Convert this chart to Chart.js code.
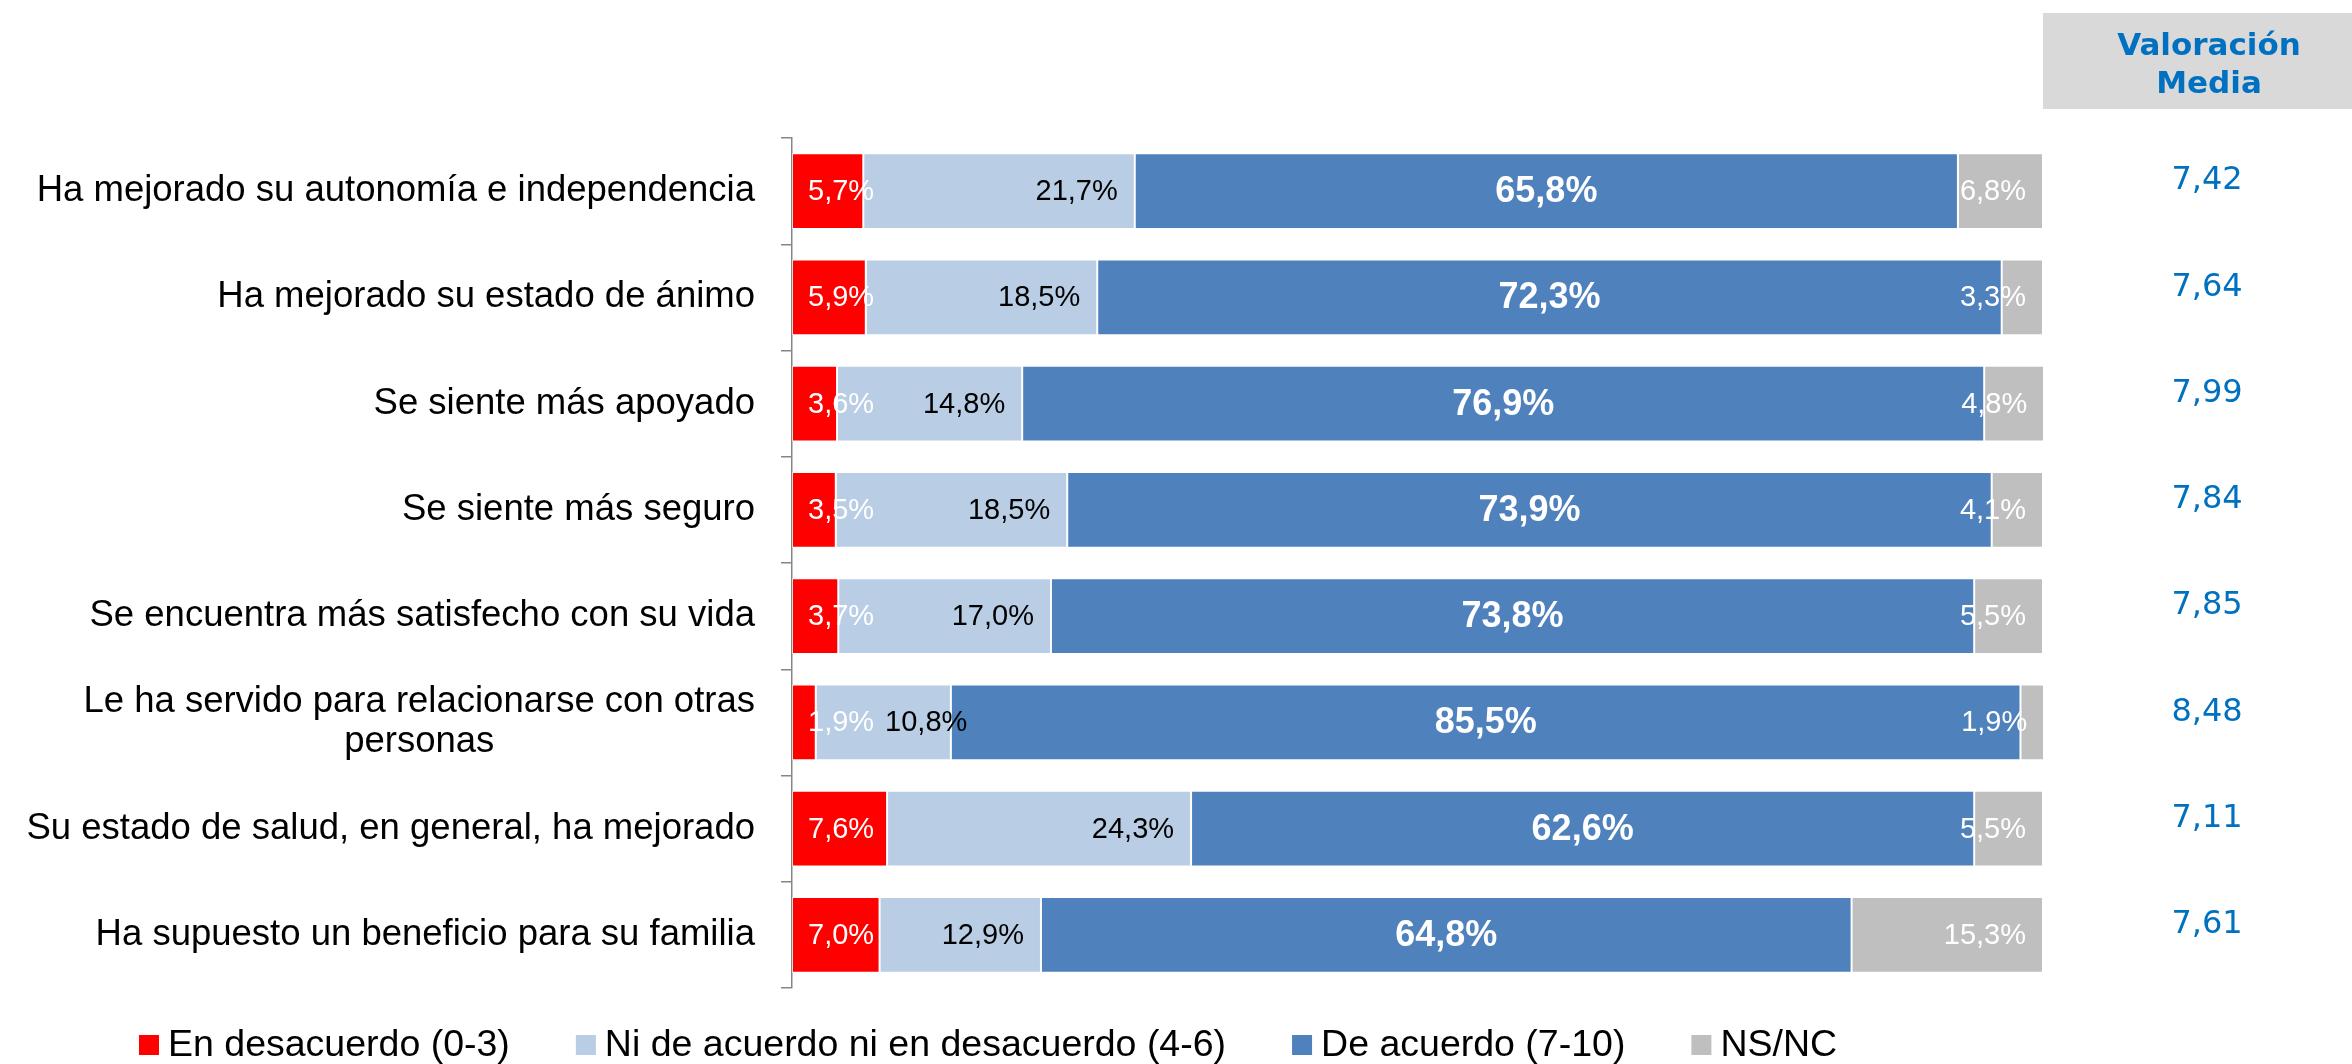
<!DOCTYPE html>
<html>
<head>
<meta charset="utf-8">
<script src="https://cdn.jsdelivr.net/npm/chart.js@4/dist/chart.umd.min.js"></script>
<style>
  html, body { margin: 0; padding: 0; background: #fff; }
  #wrap { width: 2352px; height: 1064px; position: relative; }
</style>
</head>
<body>
<div id="wrap"><canvas id="c" width="2352" height="1064"></canvas></div>
<script>
const categories = [
  'Ha mejorado su autonomía e independencia',
  'Ha mejorado su estado de ánimo',
  'Se siente más apoyado',
  'Se siente más seguro',
  'Se encuentra más satisfecho con su vida',
  ['Le ha servido para relacionarse con otras', 'personas'],
  'Su estado de salud, en general, ha mejorado',
  'Ha supuesto un beneficio para su familia'
];
const seriesNames = ['En desacuerdo (0-3)', 'Ni de acuerdo ni en desacuerdo (4-6)', 'De acuerdo (7-10)', 'NS/NC'];
const desacuerdo = [5.7, 5.9, 3.6, 3.5, 3.7, 1.9, 7.6, 7.0];
const neutral    = [21.7, 18.5, 14.8, 18.5, 17.0, 10.8, 24.3, 12.9];
const acuerdo    = [65.8, 72.3, 76.9, 73.9, 73.8, 85.5, 62.6, 64.8];
const nsnc       = [6.8, 3.3, 4.8, 4.1, 5.5, 1.9, 5.5, 15.3];
const valoracion = [7.42, 7.64, 7.99, 7.84, 7.85, 8.48, 7.11, 7.61];
const headerLines = ['Valoración', 'Media'];

const colors = ['#FF0000', '#B9CDE5', '#4F81BD', '#BFBFBF'];
const ARIAL = '"Liberation Sans", Arial, sans-serif';
const VERD = '"DejaVu Sans", Verdana, sans-serif';
const fmt = v => v.toFixed(1).replace('.', ',') + '%';
const fmt2 = v => v.toFixed(2).replace('.', ',');

const labelsPlugin = {
  id: 'customDraw',
  afterDatasetsDraw(chart) {
    const ctx = chart.ctx;
    ctx.save();
    ctx.textBaseline = 'middle';
    const n = categories.length;
    const m0 = chart.getDatasetMeta(0), m1 = chart.getDatasetMeta(1), m2 = chart.getDatasetMeta(2), m3 = chart.getDatasetMeta(3);
    for (let i = 0; i < n; i++) {
      const e0 = m0.data[i];
      ctx.font = '29px ' + ARIAL;
      ctx.fillStyle = '#FFFFFF';
      ctx.textAlign = 'left';
      const t0 = fmt(desacuerdo[i]);
      const x0 = e0.base + 16;
      ctx.fillText(t0, x0, e0.y + 1);
      const r0 = x0 + ctx.measureText(t0).width;
      const e1 = m1.data[i];
      const t1 = fmt(neutral[i]);
      const w1 = ctx.measureText(t1).width;
      const xr1 = Math.max(e1.x - 17, r0 + 11 + w1);
      ctx.fillStyle = '#000000';
      ctx.textAlign = 'right';
      ctx.fillText(t1, xr1, e1.y + 1);
      const e2 = m2.data[i];
      ctx.font = 'bold 36px ' + ARIAL;
      ctx.fillStyle = '#FFFFFF';
      ctx.textAlign = 'center';
      ctx.fillText(fmt(acuerdo[i]), (e2.base + e2.x) / 2, e2.y + 1);
      const e3 = m3.data[i];
      ctx.font = '29px ' + ARIAL;
      ctx.fillStyle = '#FFFFFF';
      ctx.textAlign = 'right';
      ctx.fillText(fmt(nsnc[i]), e3.x - 17, e3.y + 1);
    }
    ctx.restore();
  },
  afterDraw(chart) {
    const ctx = chart.ctx;
    const ys = chart.scales.y;
    const area = chart.chartArea;
    ctx.save();
    ctx.font = '36.5px ' + ARIAL;
    ctx.fillStyle = '#000000';
    ctx.textBaseline = 'middle';
    ctx.textAlign = 'center';
    const rightEdge = area.left - 37;
    categories.forEach((lab, i) => {
      const lines = Array.isArray(lab) ? lab : [lab];
      const W = Math.max(...lines.map(l => ctx.measureText(l).width));
      const yc = ys.getPixelForValue(i);
      const lh = 40;
      lines.forEach((l, k) => {
        ctx.fillText(l, rightEdge - W / 2, yc + (k - (lines.length - 1) / 2) * lh);
      });
    });
    const hx = area.right;
    ctx.fillStyle = '#D9D9D9';
    ctx.fillRect(hx, 13, chart.width - hx, 96);
    ctx.fillStyle = '#0070C0';
    ctx.font = 'bold 31px ' + VERD;
    ctx.textAlign = 'center';
    ctx.textBaseline = 'alphabetic';
    headerLines.forEach((l, k) => ctx.fillText(l, 2209, 55 + k * 38));
    ctx.font = '32px ' + VERD;
    ctx.textBaseline = 'middle';
    valoracion.forEach((v, i) => {
      ctx.fillText(fmt2(v), 2207, ys.getPixelForValue(i) - 10);
    });
    ctx.font = '37.5px ' + ARIAL;
    ctx.textAlign = 'left';
    ctx.textBaseline = 'middle';
    let x = 139;
    const ly = 1045;
    seriesNames.forEach((name, k) => {
      ctx.fillStyle = colors[k];
      ctx.fillRect(x, ly - 10, 20, 20);
      ctx.fillStyle = '#000000';
      ctx.fillText(name, x + 29, ly + 1);
      x += 29 + ctx.measureText(name).width + 66;
    });
    ctx.restore();
  }
};

const datasets = [desacuerdo, neutral, acuerdo, nsnc].map((d, k) => ({
  label: seriesNames[k],
  data: d,
  backgroundColor: colors[k],
  borderColor: 'rgba(255,255,255,0.5)',
  borderWidth: 1,
  borderSkipped: false,
  categoryPercentage: 1.0,
  barPercentage: 0.715
}));

new Chart(document.getElementById('c'), {
  type: 'bar',
  data: { labels: categories.map((c, i) => i), datasets },
  options: {
    indexAxis: 'y',
    responsive: false,
    animation: false,
    devicePixelRatio: 1,
    layout: { padding: { left: 0, right: 309, top: 138, bottom: 76 } },
    plugins: { legend: { display: false }, tooltip: { enabled: false } },
    scales: {
      x: { stacked: true, min: 0, max: 100, display: false },
      y: {
        stacked: true,
        grid: { display: true, drawOnChartArea: false, drawTicks: true, tickLength: 11, color: '#868686', lineWidth: 1.5, offset: true },
        border: { display: true, color: '#868686', width: 1.5 },
        ticks: { display: false },
        afterFit(scale) { scale.width = 792; }
      }
    }
  },
  plugins: [labelsPlugin]
});
</script>
</body>
</html>
